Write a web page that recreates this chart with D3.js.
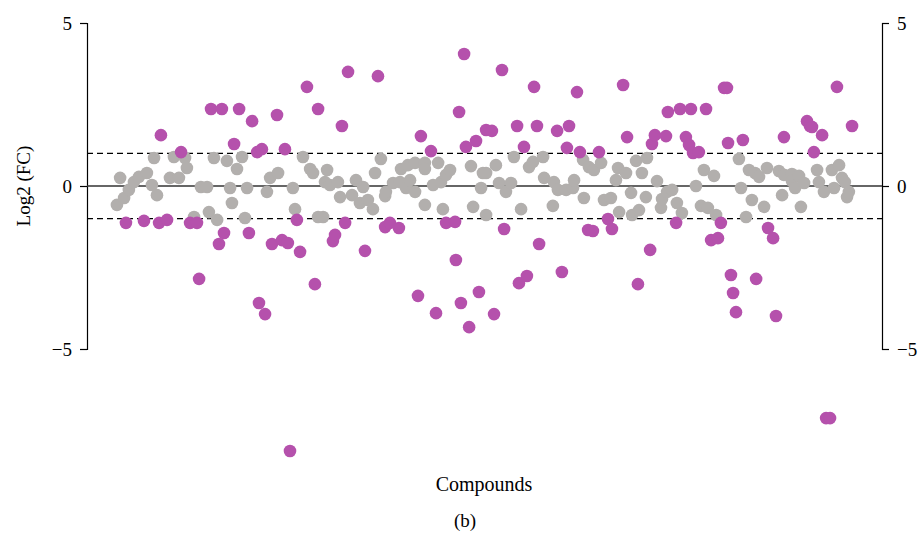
<!DOCTYPE html>
<html>
<head>
<meta charset="utf-8">
<script src="https://cdn.jsdelivr.net/npm/d3@7"></script>
<style>
  body { margin: 0; background: #fff; }
  svg { display: block; }
  text { font-family: "Liberation Serif", "DejaVu Serif", serif; fill: #000; }
  .axis text { font-size: 19px; }
  .axis path, .axis line { stroke: #000; stroke-width: 1.2; }
</style>
</head>
<body>
<svg width="922" height="537"></svg>
<script>
// compound index (position along x) and log2 fold change
var grayIdx = [11.3,12.5,14.0,15.8,17.7,19.6,22.6,24.5,25.3,26.4,31.3,32.8,34.7,37.0,37.7,40.4,43.0,45.3,46.0,47.9,
  49.1,52.8,54.0,54.7,56.6,58.5,59.6,60.4,67.9,69.1,72.1,77.7,78.5,81.5,84.2,85.3,87.2,89.1,89.8,90.6,
  91.7,94.7,95.5,100.0,101.5,103.0,104.2,106.0,107.9,108.7,110.9,112.5,112.8,115.5,118.1,118.5,120.4,121.1,121.9,123.8,
  123.8,127.5,127.5,127.5,130.6,132.5,133.6,134.3,135.5,137.0,144.9,145.7,148.7,149.4,150.6,150.6,154.3,155.5,158.1,160.0,
  161.1,163.8,166.8,168.3,172.1,172.5,175.8,176.2,177.7,180.8,183.4,183.8,187.2,187.5,189.4,191.3,194.0,195.1,197.7,199.6,
  200.4,200.8,203.4,205.3,205.7,207.2,208.3,209.4,210.9,211.3,215.1,216.6,217.0,218.9,220.8,222.6,224.5,229.8,231.7,232.8,
  234.3,236.6,237.4,246.0,246.8,248.7,249.8,250.9,252.1,253.6,255.5,256.6,261.1,262.3,263.0,266.0,266.0,267.2,268.7,269.4,
  270.6,275.5,276.2,278.1,281.1,281.9,283.8,284.9,286.0,286.8,287.5];
var grayFC = [-0.58,0.25,-0.37,-0.12,0.12,0.28,0.40,0.03,0.86,-0.28,0.25,0.89,0.25,0.86,0.55,-0.95,-0.03,-0.03,-0.80,0.86,
  -1.04,0.77,-0.06,-0.52,0.52,0.89,-0.98,-0.06,-0.18,0.25,0.40,-0.06,-0.71,0.89,0.52,0.40,-0.95,-0.95,0.12,0.49,
  0.03,0.12,-0.34,-0.28,0.18,-0.52,-0.03,-0.43,-0.71,0.40,0.83,-0.31,-0.18,0.09,0.12,0.52,-0.06,0.64,0.18,0.71,
  -0.18,0.71,0.52,-0.58,0.03,0.71,0.12,-0.71,0.34,0.49,0.61,-0.64,-0.06,0.40,0.40,-0.89,0.64,0.09,-0.18,0.09,
  0.89,-0.71,0.58,0.74,0.89,0.25,-0.61,0.12,-0.12,-0.12,-0.06,0.18,0.80,-0.37,0.58,0.49,0.71,-0.43,-0.37,0.18,
  0.55,-0.80,0.40,-0.21,-0.89,0.77,-0.74,0.40,-0.34,0.86,0.15,-0.67,-0.40,-0.18,-0.12,-0.52,-0.83,0.00,-0.61,0.49,
  -0.67,0.31,-0.89,0.83,-0.06,-0.95,0.49,-0.43,0.40,0.28,-0.64,0.55,0.46,-0.28,0.34,0.37,0.15,-0.06,0.31,-0.64,
  0.09,0.49,0.12,-0.18,0.49,-0.06,0.64,0.25,0.12,-0.34,-0.18];

var sigIdx = [14.7,21.5,27.2,27.9,30.2,35.5,38.9,41.5,42.3,46.8,49.8,50.9,51.7,55.5,57.4,61.1,62.3,64.2,64.9,66.0,
  67.2,69.8,71.7,73.6,74.7,75.8,76.6,79.2,80.4,83.0,86.0,87.2,92.8,93.6,96.2,97.4,98.5,104.9,109.8,112.5,
  114.3,117.7,124.9,126.0,129.8,131.7,135.5,138.9,139.2,140.4,141.1,142.3,143.0,144.2,146.8,147.9,150.6,152.8,153.6,156.6,
  157.4,162.3,163.0,164.9,166.0,168.7,169.8,170.6,177.4,179.2,181.1,181.9,184.9,186.0,189.1,190.9,193.2,196.6,198.1,202.3,
  203.8,207.9,212.5,213.2,214.3,218.5,219.2,222.3,223.8,226.0,227.2,227.9,228.7,230.9,233.6,235.5,238.1,239.2,240.4,241.5,
  241.9,243.0,243.8,244.9,247.5,252.5,257.0,258.9,260.0,263.0,271.7,272.8,273.6,274.3,277.4,278.9,280.4,283.0,288.7];
var sigFC = [-1.13,-1.07,-1.13,1.56,-1.04,1.04,-1.13,-1.13,-2.85,2.36,-1.78,2.36,-1.44,1.29,2.36,-1.44,1.99,1.04,-3.59,1.13,
  -3.93,-1.78,2.18,-1.66,1.13,-1.75,-8.13,-1.04,-2.02,3.04,-3.01,2.36,-1.69,-1.50,1.84,-1.13,3.50,-1.99,3.37,-1.26,
  -1.13,-1.29,-3.37,1.53,1.07,-3.90,-1.13,-1.10,-2.27,2.27,-3.59,4.05,1.20,-4.33,1.38,-3.25,1.72,1.69,-3.93,3.56,
  -1.32,1.84,-2.98,1.20,-2.76,3.04,1.84,-1.78,1.69,-2.64,1.17,1.84,2.88,1.04,-1.35,-1.38,1.04,-1.01,-1.32,3.10,
  1.50,-3.01,-1.96,1.29,1.56,1.53,2.27,-1.13,2.36,1.50,1.26,2.36,1.01,1.04,2.36,-1.66,-1.60,-1.13,3.01,3.01,
  1.32,-2.73,-3.28,-3.87,1.41,-2.85,-1.29,-1.60,-3.99,1.50,1.99,1.84,1.81,1.04,1.56,-7.12,-7.12,3.04,1.84];

var yTicks = [-5, 0, 5];
var cutoffs = [-1, 1];

var svg = d3.select("svg"),
    margin = {top: 23, left: 87},
    width = 795,
    height = 326;

var g = svg.append("g").attr("transform", "translate(" + margin.left + "," + margin.top + ")");

var x = d3.scaleLinear().domain([0, 300]).range([0, width]),
    y = d3.scaleLinear().domain([-5, 5]).range([height, 0]);

// axes on both sides
g.append("g")
    .attr("class", "axis")
    .call(d3.axisLeft(y).tickValues(yTicks).tickSizeOuter(0).tickSize(7).tickPadding(8));

g.append("g")
    .attr("class", "axis")
    .attr("transform", "translate(" + width + ",0)")
    .call(d3.axisRight(y).tickValues(yTicks).tickSizeOuter(0).tickSize(7).tickPadding(8));

// the axis groups set their own font-family, so force serif again
g.selectAll(".axis text").attr("font-family", "Liberation Serif, serif");

// zero line and +-1 cutoffs
g.append("line")
    .attr("x1", 0).attr("x2", width)
    .attr("y1", y(0)).attr("y2", y(0))
    .attr("stroke", "#333").attr("stroke-width", 1.5);

g.selectAll(".cut")
    .data(cutoffs)
    .enter().append("line")
    .attr("class", "cut")
    .attr("x1", 0).attr("x2", width)
    .attr("y1", function(d) { return y(d); })
    .attr("y2", function(d) { return y(d); })
    .attr("stroke", "#000").attr("stroke-width", 1.2)
    .attr("stroke-dasharray", "6,4");

// points
var grayPts = grayIdx.map(function(d, i) { return {x: d, v: grayFC[i]}; });
var sigPts = sigIdx.map(function(d, i) { return {x: d, v: sigFC[i]}; });

g.selectAll(".gray")
    .data(grayPts)
    .enter().append("circle")
    .attr("class", "gray")
    .attr("cx", function(d) { return x(d.x); })
    .attr("cy", function(d) { return y(d.v); })
    .attr("r", 6.3)
    .attr("fill", "#b2afad");

g.selectAll(".sig")
    .data(sigPts)
    .enter().append("circle")
    .attr("class", "sig")
    .attr("cx", function(d) { return x(d.x); })
    .attr("cy", function(d) { return y(d.v); })
    .attr("r", 6.3)
    .attr("fill", "#b551ac");

// labels
svg.append("text")
    .attr("transform", "translate(30," + (margin.top + y(0)) + ") rotate(-90)")
    .attr("text-anchor", "middle")
    .attr("font-size", 19)
    .text("Log2 (FC)");

svg.append("text")
    .attr("x", 484).attr("y", 491)
    .attr("text-anchor", "middle")
    .attr("font-size", 20)
    .text("Compounds");

svg.append("text")
    .attr("x", 465).attr("y", 527)
    .attr("text-anchor", "middle")
    .attr("font-size", 19)
    .text("(b)");
</script>
</body>
</html>
